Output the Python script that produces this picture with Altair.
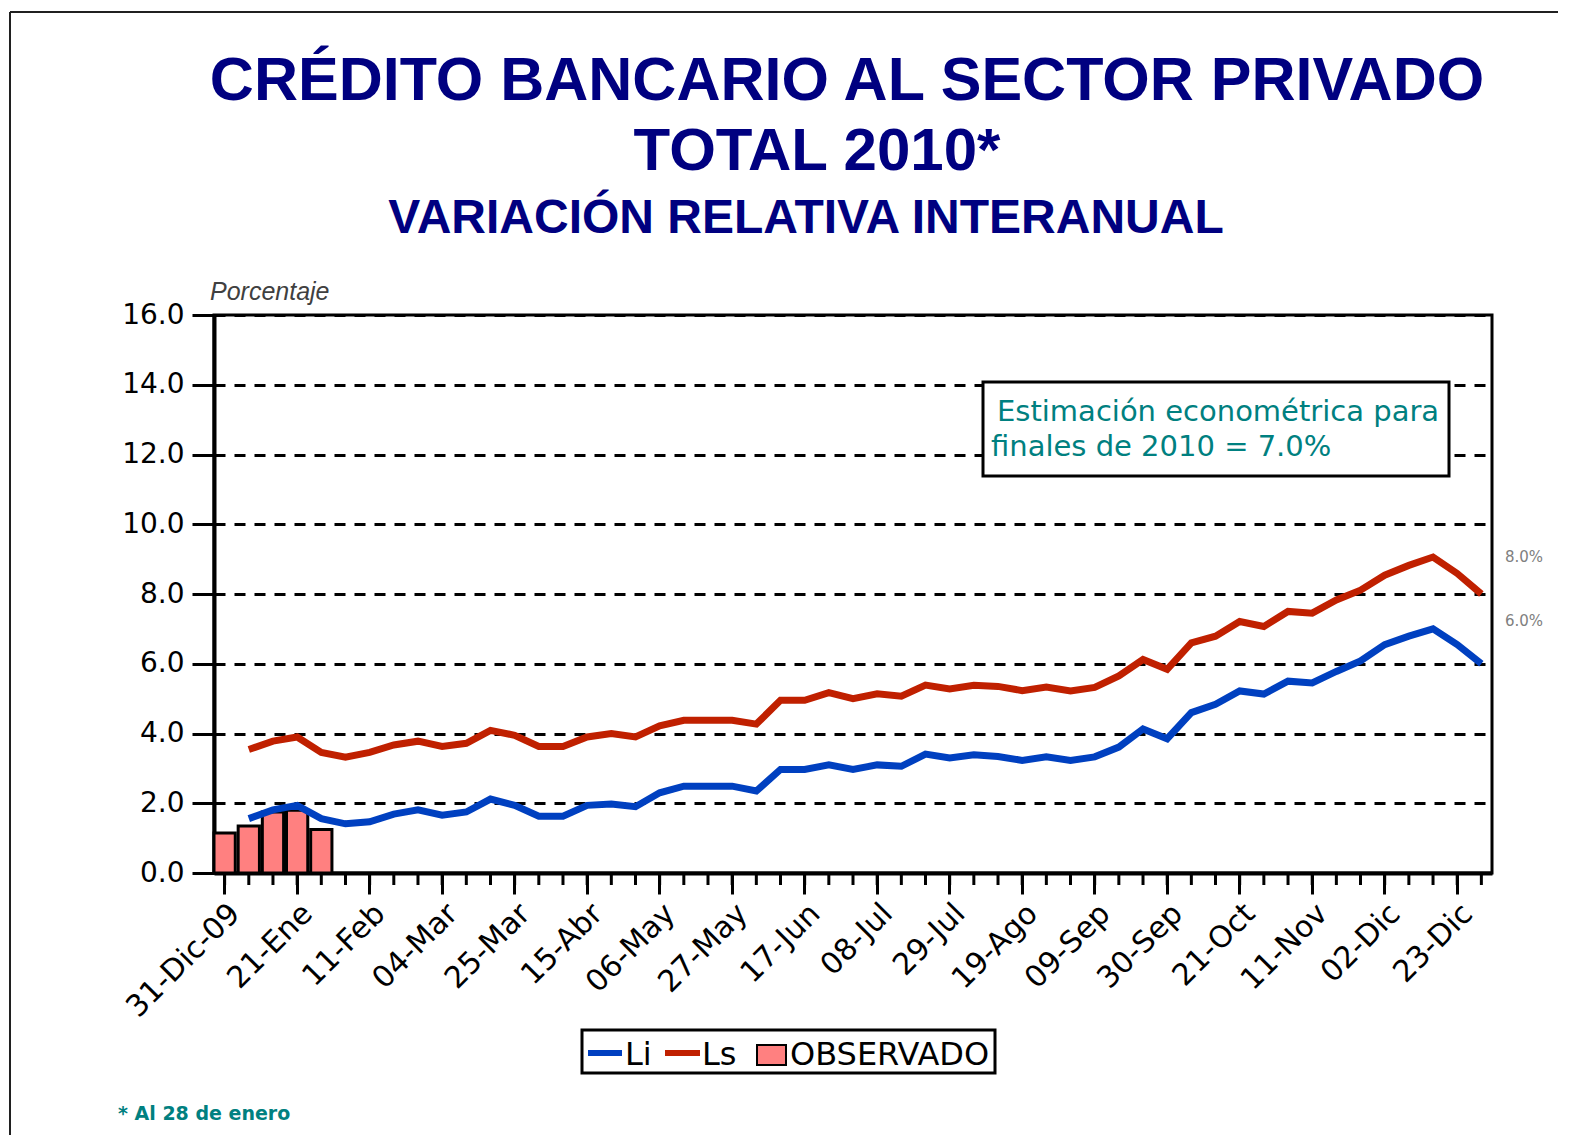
import altair as alt
import pandas as pd

# ---------------- data ----------------
dates = ["31-Dic-09", "07-Ene", "14-Ene", "21-Ene", "28-Ene", "04-Feb", "11-Feb", "18-Feb",
         "25-Feb", "04-Mar", "11-Mar", "18-Mar", "25-Mar", "01-Abr", "08-Abr", "15-Abr",
         "22-Abr", "29-Abr", "06-May", "13-May", "20-May", "27-May", "03-Jun", "10-Jun",
         "17-Jun", "24-Jun", "01-Jul", "08-Jul", "15-Jul", "22-Jul", "29-Jul", "05-Ago",
         "12-Ago", "19-Ago", "26-Ago", "02-Sep", "09-Sep", "16-Sep", "23-Sep", "30-Sep",
         "07-Oct", "14-Oct", "21-Oct", "28-Oct", "04-Nov", "11-Nov", "18-Nov", "25-Nov",
         "02-Dic", "09-Dic", "16-Dic", "23-Dic", "30-Dic"]
major_labels = dates[::3]

ls_values = [3.54, 3.78, 3.90, 3.46, 3.32, 3.46, 3.67, 3.78, 3.63, 3.72,
             4.09, 3.95, 3.63, 3.63, 3.90, 4.00, 3.90, 4.22, 4.38, 4.38,
             4.38, 4.27, 4.95, 4.95, 5.17, 5.00, 5.14, 5.07, 5.39, 5.28,
             5.38, 5.35, 5.23, 5.33, 5.22, 5.32, 5.65, 6.12, 5.84, 6.60,
             6.79, 7.21, 7.07, 7.50, 7.45, 7.83, 8.11, 8.54, 8.82, 9.06,
             8.59, 8.00]
li_values = [1.56, 1.81, 1.94, 1.56, 1.41, 1.47, 1.69, 1.81, 1.66, 1.75,
             2.12, 1.94, 1.63, 1.63, 1.94, 1.98, 1.90, 2.30, 2.49, 2.49,
             2.49, 2.35, 2.97, 2.97, 3.10, 2.97, 3.10, 3.06, 3.41, 3.30,
             3.39, 3.34, 3.23, 3.33, 3.23, 3.33, 3.61, 4.13, 3.85, 4.60,
             4.84, 5.22, 5.13, 5.50, 5.45, 5.78, 6.08, 6.55, 6.79, 7.00,
             6.55, 6.00]
obs_dates = dates[:5]
obs_values = [1.15, 1.35, 1.75, 1.80, 1.25]
y_ticks = [0, 2, 4, 6, 8, 10, 12, 14, 16]

BLUE = "#0040C0"
RED = "#C02000"
PINK = "#FF8080"
TEAL = "#008080"
NAVY = "#000080"

# ---------------- tables ----------------
line_dates = dates[1:]
df_lines = pd.DataFrame({
    "date": line_dates * 2,
    "series": ["Li"] * len(li_values) + ["Ls"] * len(ls_values),
    "value": li_values + ls_values,
})
df_obs = pd.DataFrame({"date": obs_dates, "value": obs_values})
df_dates = pd.DataFrame({"date": dates})
one = pd.DataFrame({"k": [0]})

W, H = 1278, 558

xscale = alt.Scale(domain=dates, paddingInner=0.12, paddingOuter=0)
yscale = alt.Scale(domain=[0, 16], nice=False)

x_axis = alt.Axis(values=major_labels, title=None, labelAngle=-45, labelFont="DejaVu Sans",
                  labelFontSize=30, labelColor="black", labelAlign="right", labelBaseline="top",
                  labelPadding=4, labelOverlap=False, tickSize=21, tickWidth=3, tickColor="black",
                  domainColor="black", domainWidth=4, bandPosition=0.5, grid=False)
y_axis = alt.Axis(values=y_ticks, format=".1f", title=None, labelFont="DejaVu Sans",
                  labelFontSize=28, labelColor="black", labelPadding=8, tickSize=22,
                  tickWidth=3, tickColor="black", domainColor="black", domainWidth=4,
                  grid=True, gridColor="black", gridWidth=3, gridDash=[11, 9])

X = alt.X("date:N", scale=xscale, axis=x_axis)
Y = alt.Y("value:Q", scale=yscale, axis=y_axis)

bars = alt.Chart(df_obs).mark_bar(fill=PINK, stroke="black", strokeWidth=3).encode(x=X, y=Y)

lines = alt.Chart(df_lines).mark_line(strokeWidth=7).encode(
    x=X, y=Y,
    color=alt.Color("series:N", scale=alt.Scale(domain=["Li", "Ls"], range=[BLUE, RED]), legend=None),
)

minor_ticks = alt.Chart(df_dates).mark_rule(color="black", strokeWidth=3).encode(
    x=X, y=alt.value(H), y2=alt.value(H + 12))


def txt(s, x, y, size, color="black", font="DejaVu Sans", weight="normal", style="normal",
        align="left", baseline="alphabetic"):
    return alt.Chart(one).mark_text(text=s, font=font, fontSize=size, fontWeight=weight,
                                    fontStyle=style, color=color, align=align,
                                    baseline=baseline).encode(x=alt.value(x), y=alt.value(y))


def box(x1, x2, y1, y2, fill="white", stroke="black", sw=3):
    return alt.Chart(one).mark_rect(fill=fill, stroke=stroke, strokeWidth=sw).encode(
        x=alt.value(x1), x2=alt.value(x2), y=alt.value(y1), y2=alt.value(y2))


def hline(x1, x2, y, color, sw):
    return alt.Chart(one).mark_rule(color=color, strokeWidth=sw).encode(
        x=alt.value(x1), x2=alt.value(x2), y=alt.value(y))


def vline(x, y1, y2, color, sw):
    return alt.Chart(one).mark_rule(color=color, strokeWidth=sw).encode(
        x=alt.value(x), y=alt.value(y1), y2=alt.value(y2))


# annotation box
ann_box = box(769, 1235, 67, 161)
ann1 = txt("Estimación econométrica para", 783, 106, 29, color=TEAL)
ann2 = txt("finales de 2010 = 7.0%", 777, 141, 29, color=TEAL)

# titles
t1 = txt("CRÉDITO BANCARIO AL SECTOR PRIVADO", 633, -215, 61, color=NAVY,
         font="Liberation Sans", weight="bold", align="center")
t2 = txt("TOTAL 2010*", 603, -145, 60, color=NAVY, font="Liberation Sans", weight="bold",
         align="center")
t3 = txt("VARIACIÓN RELATIVA INTERANUAL", 592, -82, 48, color=NAVY, font="Liberation Sans",
         weight="bold", align="center")
ylab = txt("Porcentaje", -4, -15, 25, color="#404040", font="Liberation Sans", style="italic")

# end labels
e1 = txt("8.0%", 1291, 242, 15, color="#808080", baseline="middle")
e2 = txt("6.0%", 1291, 306, 15, color="#808080", baseline="middle")

# legend
leg_box = box(368, 781, 715, 758)
leg_li = hline(374, 408, 738, BLUE, 6)
leg_li_t = txt("Li", 411, 750, 32)
leg_ls = hline(451, 486, 738, RED, 6)
leg_ls_t = txt("Ls", 488, 750, 32)
leg_sq = box(543, 572, 730, 750, fill=PINK, stroke="black", sw=2)
leg_obs_t = txt("OBSERVADO", 576, 750, 32)

# footnote
foot = txt("* Al 28 de enero", -96, 805, 19, color=TEAL, weight="bold")

# outer frame
frame_top = hline(-204, 1360, -303, "#202020", 2)
frame_left = vline(-204, -303, 840, "#202020", 2)

chart = alt.layer(
    bars, lines, minor_ticks,
    ann_box, ann1, ann2,
    t1, t2, t3, ylab, e1, e2,
    leg_box, leg_li, leg_li_t, leg_ls, leg_ls_t, leg_sq, leg_obs_t,
    foot, frame_top, frame_left,
).properties(
    width=W, height=H,
    padding={"left": 206, "top": 307, "right": 66, "bottom": 262},
    autosize=alt.AutoSizeParams(type="none"),
).configure_view(stroke="black", strokeWidth=3)

chart.save("out.html", embed_options={"renderer": "svg", "actions": False})
